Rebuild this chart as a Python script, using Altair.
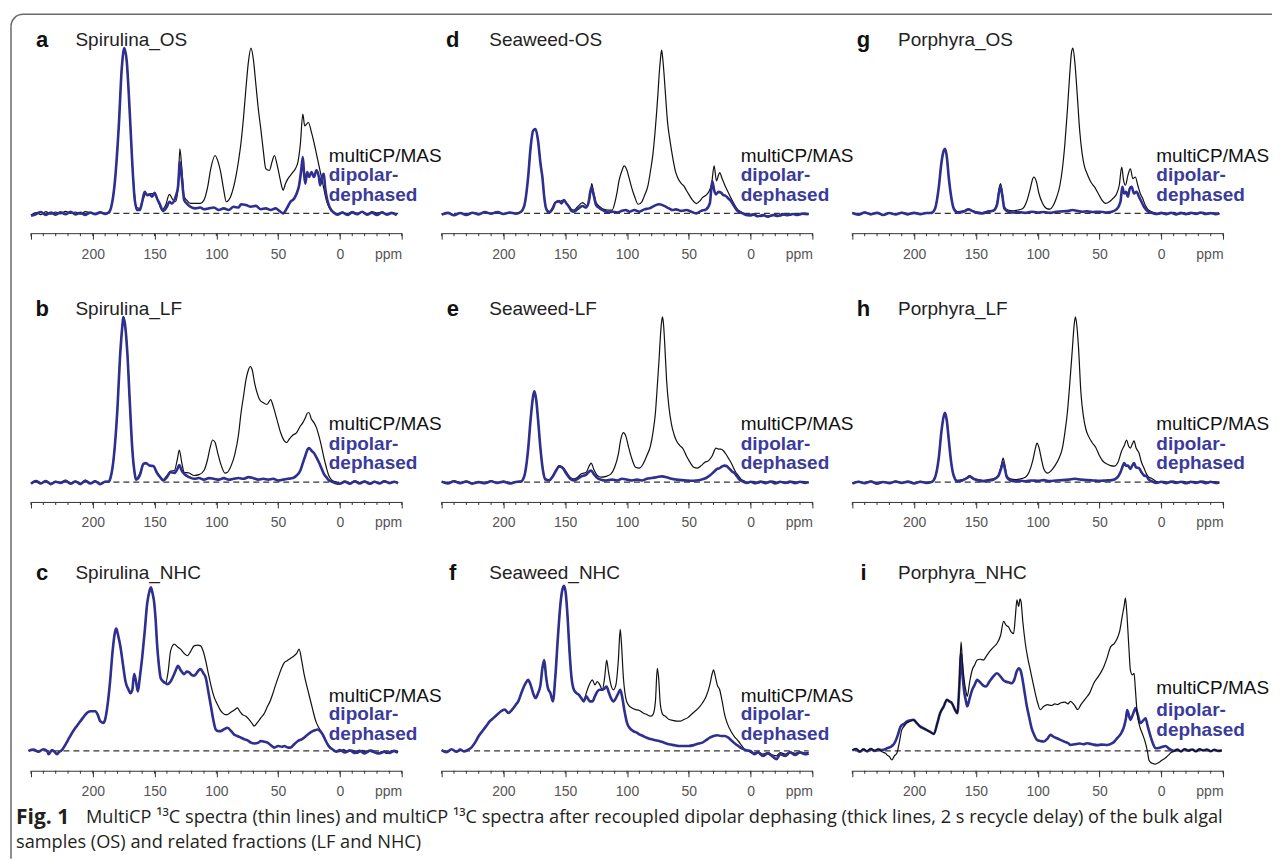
import altair as alt
import pandas as pd

# ---------------- data (ppm, relative intensity) ----------------
a_cp = [(250,-1),(246,0.5),(242,-0.8),(238,1),(234,-0.5),(230,0.8),(226,-0.3),(222,1.2),(218,0),(214,0.8),(210,-0.5),(206,1),(202,0.3),(198,-0.6),(194,0.8),(190,0),(187,1),(185,4),(182,20),(179,52),(176.5,88),(174.5,100),(172.5,92),(170,60),(168,30),(166,10),(165,4),(162,3),(159,9),(157,12),(155,11),(153,12),(150,12),(147,7),(144,2),(141,5),(138,11.5),(135,8),(133,7),(131,15),(129.5,39),(128,28),(126,10),(124,8),(121,6),(117,6),(113,6),(110,8),(107,16),(104.5,27),(101,35),(98.5,31),(96.5,25),(94,14),(92,7),(90,8),(88,11),(86,16),(84,23),(82,32),(80,43),(78,58),(76,76),(74,92),(72,100),(70,93),(68,78),(66,63),(64,51),(62,38),(60,27),(57,26),(55,31),(53,35),(51,30),(49,23),(47,16),(46,14),(44,18),(42,21),(40,23),(38,25),(36,27),(34,31),(32,42),(30,60),(28.5,53),(27,54),(25.5,55),(23,49),(21,43),(19,36),(17,29),(15,22),(13,15),(11,8),(9,4),(7,1.5),(5,0.6),(2,-0.5),(-2,0.8),(-6,-0.4),(-10,1),(-14,0),(-18,0.8),(-22,-0.6),(-26,1),(-30,0.2),(-34,0.8),(-38,-0.6),(-42,0.4),(-46,-0.8)]
a_dd = [(250,-1.5),(246,-0.5),(242,0.8),(238,-1),(234,0.5),(230,-0.8),(226,0.6),(222,-0.5),(218,1),(214,-0.6),(210,0.4),(206,-1),(202,0.5),(198,-0.5),(194,0.6),(190,-0.3),(187,0.5),(185,4),(182,20),(179,52),(176.5,88),(174.5,100),(172.5,92),(170,60),(168,30),(166,8),(164,2),(162,2),(160,7),(158,13),(156,11),(154,11.5),(152,10),(150,12.5),(148,9),(146,6),(143,1.5),(140,4),(138,7),(136,6),(133,10),(131,16),(129.5,31),(128,22),(126,8),(124,6),(121,4),(117,3),(113,3.5),(110,2.5),(106,3),(102,3.5),(98,2),(94,3),(90,2),(86,4),(82,3.5),(80,5.5),(76,5),(72,4),(68,4.5),(64,2.5),(60,3),(56,2),(52,3),(49,1.5),(46,0),(43,3),(40,7),(37,9),(35,12),(33,17),(31.5,25),(30,34),(29,24),(28,18),(26.5,25),(25,22),(23,25),(21,22),(19,26),(17,22),(16,17),(14.5,22),(13,24),(12,16),(11,11),(9,5),(7,2),(5,0.5),(2,-0.8),(-2,0.5),(-6,-1),(-10,0.6),(-14,-0.5),(-18,1),(-22,-0.8),(-26,0.4),(-30,-1),(-34,0.6),(-38,-0.8),(-42,0.3),(-46,-1.2)]

d_cp = [(250,-0.5),(245,0.5),(240,-1),(235,0.3),(230,-0.8),(225,0.5),(220,-0.3),(215,0.8),(210,0),(205,1),(200,-0.3),(195,0.6),(190,0),(186,1),(183,5),(180,22),(178,40),(176,50),(174,51),(172,44),(170,30),(168.5,22),(167,10),(165.5,3),(163,1),(160,4),(158,6.5),(155,7),(151,8),(149,6),(147,4.4),(145,2.5),(143,2),(140,4),(136,6.5),(132,4.4),(130,10),(128.6,18),(127,13),(125,6.5),(122,4),(118.6,2.4),(115,2),(112,2),(110,6),(108,13),(106.5,19.6),(104,26),(102.4,28.7),(100,26),(98.4,21.6),(96,15),(94,10.5),(91,5.5),(88,7),(86,10.5),(83,17),(81,25.7),(79,36),(77,52),(75,72),(74,84),(73,93),(72,98.8),(71,93),(70,84),(68.5,68),(67.3,56),(65,43),(63,33.7),(61,26),(59,21.6),(56,18),(54,16.6),(52,14),(50,11.5),(47,8),(44,5.9),(41,7.5),(39,9.5),(36,11),(33.5,13.5),(31.5,18),(29.5,28.7),(27.6,19.6),(26,23),(25,24.6),(23,21),(20,15.6),(17,11),(14.6,7.5),(12,4),(10.5,2.4),(8,1),(6.5,0.4),(3,-0.8),(0,-1.6),(-4,-1),(-8,-2),(-12,-1.2),(-16,-1.8),(-20,-0.8),(-24,-1.6),(-28,-0.6),(-32,-1.2),(-36,-0.3),(-40,-0.8),(-44,0),(-47,-0.5)]
d_dd = [(250,-0.8),(245,0.3),(240,-1.2),(235,0.2),(230,-1),(225,0.4),(220,-0.6),(215,0.8),(210,-0.2),(205,0.8),(200,-0.4),(195,0.5),(190,-0.2),(186,0.8),(183,5),(180,22),(178,40),(176,50),(174,51),(172,44),(170,30),(168.5,22),(167,10),(165.5,3),(163,0.5),(160,3),(158,6.5),(155,7.5),(153,6),(151,8),(149,6),(147,4),(145,1.5),(143,1),(140,2.5),(136,4.4),(133,3.5),(131,7),(129,15.5),(127,11),(125,5),(122,3),(118.6,1.5),(115,0.5),(112,1),(108,0.5),(104,1.5),(101,2),(98,1),(94,2),(90,1),(86,2.4),(82,3),(78,4.5),(74,5.5),(70,4.5),(66,3),(63,2),(60.5,2.4),(56,1.5),(52,2),(48,1),(44,0),(40,1.5),(36,2.4),(33,6),(31,19.6),(29.5,14),(28,11.5),(26,13),(24,12.5),(22,11),(20,10.5),(18,9),(16,7.5),(13,4),(10.5,1.4),(8,0.5),(5,-0.5),(2,-1.2),(-2,-0.6),(-6,-1.8),(-10,-1),(-14,-2),(-18,-1),(-22,-1.6),(-26,-0.5),(-30,-1.2),(-34,-0.4),(-38,-1),(-42,-0.2),(-47,-0.6)]

g_cp = [(250,0.5),(245,-0.5),(240,0.8),(235,-0.3),(230,0.5),(225,-0.8),(220,0.3),(215,-0.5),(210,0.6),(205,-0.4),(200,0.5),(195,-0.3),(190,0.4),(186,0.5),(183,3),(180,16),(178,30),(176,38),(175,39),(173.5,34),(172,22),(170,10),(168,3),(165,1),(160,1.5),(156,2.5),(153,1.5),(150,1),(145,0.5),(140,1.5),(136,2),(133,6),(131,16),(130,18),(128.5,12),(127,4),(124,2),(120,1.5),(116,2),(112,3),(109,7),(106,15),(104,21),(103,22),(101,19),(99,12),(96,6),(93,3),(90,2.5),(88,4),(85,9),(82,17),(80,27),(78,42),(76,62),(74,85),(72.5,98),(71.5,100),(70,92),(68,72),(66,50),(64,36),(62,28),(60,24),(57,19),(54,16),(51,12),(48,8),(45,6),(42,7),(39,9),(36,12),(34,17),(32,28),(30.5,20),(29,17),(27,23),(25,27),(23,21),(21,22),(19,17),(17,12),(15,9),(13,5),(11,2.5),(8,1),(5,0.3),(2,-0.5),(-2,0.5),(-6,-0.3),(-10,0.6),(-14,-0.5),(-18,0.4),(-22,-0.6),(-26,0.5),(-30,-0.2),(-34,0.6),(-38,-0.4),(-42,0.3),(-47,-0.3)]
g_dd = [(250,0.2),(245,-0.8),(240,0.5),(235,-0.6),(230,0.3),(225,-1),(220,0.2),(215,-0.7),(210,0.4),(205,-0.6),(200,0.3),(195,-0.5),(190,0.2),(186,0.3),(183,3),(180,16),(178,30),(176,38),(175,39),(173.5,34),(172,22),(170,10),(168,3),(165,0.5),(160,1),(156,2.4),(153,1.5),(150,0.5),(145,0),(140,1),(136,1.5),(133,5),(131,14),(130,16),(128.5,10),(127,3),(124,1),(120,0.5),(115,0.8),(110,0.3),(105,1),(100,0.5),(95,0.8),(90,0.3),(85,1),(80,1.2),(75,1.5),(72,2),(68,1.5),(64,1),(60,1.2),(55,0.8),(50,1),(45,0.5),(40,1),(36,2.5),(33,7),(31.5,16),(30,12),(28.5,13),(27,10),(25.5,15),(24,16),(22,12),(20,13),(18,10),(16,7),(14,4),(12,2),(10,0.8),(7,0.2),(4,-0.4),(0,0.3),(-4,-0.5),(-8,0.4),(-12,-0.6),(-16,0.3),(-20,-0.5),(-24,0.4),(-28,-0.3),(-32,0.5),(-36,-0.4),(-40,0.2),(-44,-0.5),(-47,0)]

b_cp = [(250,-0.5),(246,1),(242,-0.3),(238,0.8),(234,-0.8),(230,0.5),(226,0),(222,1),(218,-0.5),(214,0.6),(210,-0.8),(206,1.2),(202,-0.5),(198,0.8),(194,-1),(190,0.5),(187,0.5),(185.5,3),(183,15),(180,45),(178,75),(176,95),(175.3,100),(174,96),(172,78),(170,48),(168,20),(166,5),(165,2),(162,5),(159,11),(157,11.5),(154,10),(151,9.7),(148,6),(145,3),(143,1.5),(140,4),(137,6.7),(134,7),(131.5,14),(130,19.4),(128,12),(126,6),(122,5.5),(118,4),(114,4.5),(110,7),(107,14),(105,21),(103,25.5),(101,24),(99,18),(96,10),(93,5.5),(91,6),(88,10),(85,17),(82,29),(80,42),(78,52),(76,62),(74,68),(72.5,70),(71,68),(69,60),(67,54),(65,50),(62,48),(59,47),(56,50),(54,46),(51,38),(48,30),(45,25),(43,24),(41,26),(38,28.5),(35,30),(32,34),(30,36),(28,39),(26,42),(25,42),(23,38),(21,36),(19,33),(17,28),(15,22),(13,15),(11,9),(9,4),(7,1.5),(4,0.3),(0,-0.8),(-4,0.5),(-8,-0.6),(-12,0.8),(-16,-0.3),(-20,0.6),(-24,-0.8),(-28,0.4),(-32,-0.5),(-36,0.8),(-40,-0.3),(-44,0.5),(-47,-0.5)]
b_dd = [(250,-1),(246,0.5),(242,-0.8),(238,0.6),(234,-1.2),(230,0.2),(226,-0.5),(222,0.8),(218,-1),(214,0.4),(210,-1.2),(206,0.8),(202,-0.8),(198,0.5),(194,-1.2),(190,0.2),(187,0.3),(185.5,3),(183,15),(180,45),(178,75),(176,95),(175.3,100),(174,96),(172,78),(170,48),(168,20),(166,5),(165,1.5),(162,4),(159,11),(157,11.5),(154,10),(151,9.7),(148,5.5),(145,2.5),(143,1),(140,3),(137,6),(134,5.5),(131.5,8),(130,10.3),(128,7),(126,5),(122,3),(118,2),(114,2.5),(110,1.5),(106,2.4),(102,2),(98,1.5),(94,2.4),(90,1.5),(86,2),(82,2.5),(78,2),(74,3),(70,2.4),(66,1.5),(62,2),(58,1.5),(54,2),(50,1),(46,1.5),(42,2),(38,2.5),(35,4),(32,7),(30,11.5),(28,16),(26,20),(25,20.6),(23,19),(21,17.6),(19,15),(17,12),(15,8.5),(13,5),(11,3),(9,1.2),(7,0.5),(4,-0.5),(0,-1),(-4,0.3),(-8,-1),(-12,0.5),(-16,-0.8),(-20,0.4),(-24,-1),(-28,0.2),(-32,-0.8),(-36,0.5),(-40,-0.6),(-44,0.2),(-47,-0.8)]

e_cp = [(250,0.5),(245,-0.5),(240,0.8),(235,-0.3),(230,0.6),(225,-0.6),(220,0.2),(215,-0.4),(210,0.7),(205,-0.3),(200,0.5),(195,-0.5),(190,0.3),(186,0.5),(183,4),(180,20),(178,38),(176,52),(175,55),(173.5,50),(172,38),(170,20),(168,7),(166,2),(163,1.5),(160,4),(157,8),(155,10),(152,9),(149,6),(146,3),(143,2),(140,3),(137,5),(133,6),(130.5,10),(129,11.5),(127,8),(124,4),(121,3),(117,3.5),(113,5),(110,9),(107,17),(105,26),(103,30),(101,28),(99,22),(96,14),(93,9),(90,8.5),(87,11),(84,16),(81,22),(79,30),(77,42),(75.5,58),(74,75),(73,88),(72,97),(71.3,100),(70.5,96),(69.5,84),(68,62),(66,45),(64,35),(62,29),(60,25),(57,22),(55,20.6),(52,16),(49,12),(46,9),(43,8.5),(40,10),(37,12),(34,13),(31,16),(28,20.6),(26,20),(24,20),(22,19),(20,17),(18,14.5),(16,12),(14,9),(12,6),(10,4),(8,2),(5,0.6),(2,-0.5),(-2,0.4),(-6,-0.6),(-10,0.5),(-14,-0.4),(-18,0.6),(-22,-0.5),(-26,0.3),(-30,-0.6),(-34,0.4),(-38,-0.3),(-42,0.5),(-47,-0.4)]
e_dd = [(250,0.3),(245,-0.8),(240,0.5),(235,-0.6),(230,0.4),(225,-0.9),(220,0),(215,-0.6),(210,0.5),(205,-0.5),(200,0.3),(195,-0.8),(190,0.1),(186,0.3),(183,4),(180,20),(178,38),(176,52),(175,55),(173.5,50),(172,38),(170,20),(168,7),(166,1.5),(163,1),(160,3.5),(157,7.5),(155,9.5),(152,8.5),(149,5),(146,2),(143,1),(140,2),(137,3.5),(133,4.5),(130.5,6.5),(129,7),(127,5),(124,2.5),(121,1.5),(117,1),(112,1.5),(108,1),(104,2),(100,1.5),(96,1),(92,1.5),(88,1),(84,2),(80,2.5),(76,3),(72,3.5),(68,3),(64,2),(60,1.5),(56,1.2),(52,1),(48,0.8),(44,1),(40,1.5),(36,2.5),(33,4),(30,6),(27,8),(25,8.5),(23,9.5),(21,10),(19,9.5),(17,8),(15,6.5),(13,5.5),(11,3.5),(9,1.5),(6,0.3),(3,-0.5),(0,0.2),(-4,-0.7),(-8,0.3),(-12,-0.6),(-16,0.4),(-20,-0.8),(-24,0.2),(-28,-0.5),(-32,0.3),(-36,-0.6),(-40,0.2),(-44,-0.5),(-47,0)]

h_cp = [(250,-0.5),(245,0.5),(240,-0.3),(235,0.6),(230,-0.6),(225,0.3),(220,-0.4),(215,0.6),(210,-0.2),(205,0.5),(200,-0.5),(195,0.4),(190,-0.2),(186,0.3),(183,3),(180,15),(178,30),(176,40),(175,42),(173.5,37),(172,26),(170,12),(168,4),(165,1),(161,1.5),(157,3),(155,4),(152,2.5),(148,1.5),(144,1),(140,1.5),(136,2),(132,4),(129.5,10),(128,14.5),(126.5,10),(125,4),(122,2),(118,1.5),(114,2),(110,3),(107,6),(104,13),(102,20),(100.5,23.6),(99,21),(97,14),(95,8),(92,5.5),(89,7),(86,10),(83,14),(80,20.6),(78,30),(76,42),(74,60),(72,80),(70.5,95),(69.5,100),(68.5,96),(67,82),(65,54),(63,40),(61,32),(59,28),(56,24),(53,21),(50,16),(47,12.5),(44,11),(41,10),(38,9.7),(35,12),(32,19),(30,22),(28,25.5),(26.5,22),(25,20.6),(23.5,23),(22,25),(20.5,21),(18,17.6),(16,12),(14,8.5),(12,5),(10,3),(8,2.4),(5,0.8),(2,-0.3),(-2,0.5),(-6,-0.4),(-10,0.6),(-14,-0.3),(-18,0.5),(-22,-0.6),(-26,0.4),(-30,-0.3),(-34,0.6),(-38,-0.4),(-42,0.3),(-47,-0.4)]
h_dd = [(250,-0.8),(245,0.2),(240,-0.6),(235,0.4),(230,-0.9),(225,0.1),(220,-0.7),(215,0.4),(210,-0.5),(205,0.3),(200,-0.8),(195,0.2),(190,-0.5),(186,0),(183,3),(180,15),(178,30),(176,40),(175,42),(173.5,37),(172,26),(170,12),(168,4),(165,0.5),(161,1),(157,2.5),(155,3.5),(152,2),(148,1),(144,0.5),(140,1),(136,1.5),(132,3.5),(129.5,8.5),(128,12),(126.5,8),(125,3),(122,1),(118,0.5),(114,0.8),(110,0.5),(105,1),(100,0.8),(95,1.2),(90,0.6),(85,1),(80,1.2),(75,1.5),(70,2),(65,1.5),(60,1.2),(55,1),(50,0.8),(45,1),(40,1.2),(36,2.5),(33,6),(31,10),(30,11.5),(28.5,10),(27,10),(25,8),(23.5,10),(22,11.5),(20.5,9),(18,8.5),(16,6),(14,4),(12,3.6),(10,1.5),(7,0.3),(4,-0.5),(0,0.2),(-4,-0.6),(-8,0.3),(-12,-0.5),(-16,0.2),(-20,-0.7),(-24,0.2),(-28,-0.5),(-32,0.3),(-36,-0.6),(-40,0.2),(-44,-0.5),(-47,-0.2)]

c_shared = [(252,0),(248,0.8),(244,-0.5),(240,1),(237,0),(235.7,-2),(233,0.5),(231,-0.5),(229,-2),(227,-0.5),(225,0.5),(222,4),(219,8),(216.7,11),(214,14),(211,17),(208,20),(206,22),(202,24),(198,24),(196,22),(194,18),(191.5,17),(190,19),(188,28),(186,42),(184,60),(182,72),(181,74),(179.5,70),(177.6,63),(175.5,52),(173.5,42),(171,37),(169.5,35),(168,37),(166.5,46.5),(165,42),(163.5,36),(162,44),(160,56.6),(158,72),(156,89),(154,97),(153,99),(151.5,95),(150.5,91),(149,78),(148,65),(146.5,52),(145,44),(143,42),(141,41)]
c_cp_tail = [(139,48),(137,60.6),(134,64.6),(131.5,63),(129,61.6),(126,59),(123.5,57.6),(121,60),(118,63.6),(115,64),(112.7,63.6),(110.5,60),(108.6,54.5),(106.5,47),(104.6,40.4),(102,33),(99,28),(97,25),(95,23),(93,22),(91,22),(89,23),(87,24),(85,25),(83,26),(81,24),(79,22),(76,21),(73.5,19),(71,16.5),(69.5,15),(67,17),(64,20),(61,23),(58.6,27),(56.5,30),(54.6,34),(52,40),(49,46.5),(47,50.5),(45,53.5),(43,54.5),(41,55.5),(39,56.5),(37,57.6),(35,59),(33,61.6),(31,55),(29,46.5),(27,40),(25,34),(22,25),(19.5,18),(17,14),(15.4,12),(13,8.5),(11.4,6),(9,3.5),(7.3,2),(4.6,0),(1,-0.5),(-3,0.8),(-6,-0.6),(-10,0.5),(-14,-1.5),(-18,0.3),(-22,-1),(-26,0.5),(-30,-1.8),(-34,-0.4),(-38,-1.5),(-42,0.2),(-46,-1.2)]
c_dd_tail = [(139.7,40.4),(137,42),(135,45),(133,48.5),(131,51.5),(129,49),(126,46.5),(124,48),(122,47.5),(120,46),(118,45.5),(116,47),(114,49),(112.7,49.5),(110.5,47),(108.6,44.4),(106.5,36),(104.6,28),(102.5,19),(100.5,13),(98.5,12),(96.5,12),(94,13),(91,14),(88,12),(85.7,10),(83,9),(80,8),(77,7),(75,6.5),(72,5),(69,4.5),(66,5),(64,6),(61,5.5),(58.6,5),(56,3.5),(53,2),(50,3),(47,2.5),(45,3),(42,2),(40,2),(37,4),(34,6),(31,7),(29,8),(26,10),(22,12),(20,12.5),(18,13),(16,12),(14,10),(12,7),(10,4),(8,2),(6,1),(3,-0.5),(0,0.5),(-4,-1),(-8,0.3),(-12,-1.2),(-16,0),(-20,-1.5),(-24,0.2),(-28,-0.8),(-32,-1.5),(-36,-0.5),(-40,-1.2),(-44,0),(-47,-1)]
c_cp = c_shared + c_cp_tail
c_dd = c_shared + c_dd_tail

f_shared = [(250,0.5),(246,-0.8),(242,1),(238,-0.5),(235,0.8),(232,-0.3),(229,0.5),(226,2),(223,5),(220,9),(217,12),(214,15),(211,18),(208,20),(205,22),(202,24),(199,25),(196,23),(193,25),(190,28),(188,30),(186,34),(184,38),(182,41),(180,43),(178,40),(176,35),(174,32),(172,35),(170,40),(168.5,50),(167,55),(165.5,45),(164,38),(162,35),(160,30),(158,45),(156,68),(154,88),(152.5,97),(151,100),(149.5,95),(148,80),(146.5,60),(145,45),(143,37),(141,35),(139,34),(137,32),(135,30)]
f_cp_tail = [(133,35),(130,41),(128,43),(126,40),(124,42),(122,40),(120,37),(118,45),(116.5,55),(115,48),(113,40),(111,37),(109,40),(107,55),(105.5,73.6),(104.5,65),(103,45),(101,32),(99,28),(96,26),(93,25),(90,24.5),(87,23),(84,22),(81,21),(79,22),(77,30),(75.5,50),(74.5,45),(73,28),(71,22),(69,21),(66,19),(63,18.5),(60,18),(57,18),(54,19),(51,20),(48,22),(45,24),(42,26),(39,29),(36,33),(33,40),(31,47),(30,49),(28.5,45),(27,40),(25,37),(23,30),(21,22),(19,17),(16,12),(13,8.5),(10,6),(7,3),(5,1),(2,0),(-2,-1.5),(-6,-0.5),(-10,-2),(-14,-1),(-18,-2.5),(-21,-3),(-24,-1),(-28,-2),(-32,-0.5),(-36,-1.5),(-40,-0.5),(-44,-1.2),(-47,-0.8)]
f_dd_tail = [(133,33),(130,30),(128,30),(126,33),(124,36),(122,37),(120,37),(118,38),(116.5,39),(115,36),(113,32),(111,30),(109,32),(107,35),(105.5,37),(104,33),(102,24),(100,17),(98,14),(95,12),(92,11),(90,10),(87,9),(84,8),(80,7),(77,6.5),(74,6),(70,5),(66,4),(62,3.5),(58,3),(54,3),(50,3),(46,3.5),(42,4.5),(39,5),(36,6.5),(33,8),(30,9),(27,9.5),(24,9),(21,9),(18,8),(15,6),(12,4),(10,3),(7,1.5),(4,0.5),(0,0),(-3,-2),(-6,-1),(-10,-3),(-14,-1.5),(-18,-3.5),(-21,-5),(-24,-2),(-28,-3),(-32,-1),(-36,-2.5),(-40,-1),(-44,-2),(-47,-1.5)]
f_cp = f_shared + f_cp_tail
f_dd = f_shared + f_dd_tail

i_cp = [(250,0.5),(247,1.5),(244,-0.3),(241,1.2),(238,0),(235,1.5),(232,0.3),(229,1.2),(226,-0.5),(223,-1.5),(222,-2.4),(220,-3.5),(218,-5.5),(216,-3),(214,-1.4),(212,5),(210,12.7),(208,15),(206,16.8),(203,18),(200.5,18.8),(198,17),(195,14.7),(192,13.5),(190,12.7),(187,11.5),(184,10.3),(181.5,16),(179,22.8),(176,27),(173.5,31),(171.5,30),(169.5,29),(167,25),(165,22.8),(163.5,40),(162,66),(161,55),(159.5,43),(158,36),(157,33),(155,42),(153,49),(151,52),(149,55),(146.5,55.5),(144,55),(141,58),(138,61),(135.5,63),(133,65),(130,70),(127.6,78.4),(125.5,76),(123.5,75),(121.5,72),(119.5,71),(118,82),(116.8,91.5),(115.4,87.5),(114.3,92),(113.5,90.5),(112,78),(110,65),(108,56),(106,49),(104,42),(102,35),(100,29),(98,25),(95,27),(92,28),(89,27.5),(86,28.5),(84,28),(81.6,29),(78,29.5),(75.5,28.5),(73.5,30),(70.5,28),(67.6,25),(65,28),(63,30),(61,32),(58,35),(54.6,41),(51,45),(48.5,48),(46.5,51),(44,56),(41,63),(38,65),(35.7,68),(33.5,73),(31.6,81.4),(30,88),(29,92.5),(28,85),(27,73),(26,60),(25,49),(23.5,46),(22,47),(21,38),(19.5,22.8),(17.5,15),(15.4,10.7),(12.7,4.6),(11,-1),(10,-5.5),(8.5,-7),(7.3,-7.5),(5,-8),(3.2,-7.5),(1,-6.5),(-0.8,-5.5),(-3,-4.5),(-6,-2.4),(-8,-1),(-10,-0.4),(-13,0.8),(-16,-0.5),(-19,1.2),(-22,0),(-25,1),(-28,-0.5),(-31,1.3),(-34,0.2),(-37,1),(-40,-0.3),(-43,0.8),(-46,0),(-49,0.5)]
i_dd = [(250,0.3),(247,1),(244,-0.5),(241,0.8),(238,-0.3),(235,1),(232,0),(229,0.8),(226,0.5),(223,1.2),(222,1.6),(219,2.5),(217,3.6),(215,6),(213,10),(211,14.7),(208,16.5),(206,17.8),(203,18.5),(200.5,18.8),(198,17),(195,14.7),(192,13.5),(190,12.7),(187,11.5),(184,10.3),(181.5,16),(179,22.8),(176,27),(173.5,31),(171.5,30),(169.5,29),(167,25),(165,22.8),(163.5,38),(162,59),(161,48),(159.5,36),(158,30),(157,27),(155,32),(153,37),(151,40),(149,43),(146,41),(144,39.5),(142,39),(139,42),(136,45),(133,47),(130,45),(128,43),(126,42),(123.5,41.5),(121,41),(119,43),(117,48),(115.4,50),(114,49),(112.7,45),(110.5,35),(109,28),(107,20.8),(105,14),(103,10),(100.5,6.7),(98,6),(95,5.7),(92,7.5),(89.7,9.7),(87,8.5),(84,7.5),(81.6,6.7),(78,5.5),(75,4.5),(73.5,3.6),(70,4),(66,4.5),(63,4),(60,4.6),(56,4),(52,3.5),(48,3.8),(43.8,3.6),(40,4.5),(37.5,6),(35.7,7.7),(33,10),(30,15),(28.5,20),(27.6,24.8),(26,21),(25,18.8),(23,22),(21.5,25),(20.8,25.9),(19,22),(16.8,16.8),(14.5,18.5),(12.7,19.8),(11,15),(8.6,8.7),(6.5,4),(4.6,1.6),(2,1.8),(-1,2.5),(-3.5,3),(-6,1.5),(-10,0),(-13,0.8),(-16,-0.3),(-19,1),(-22,0.2),(-25,0.9),(-28,-0.2),(-31,1),(-34,0.3),(-37,0.8),(-40,-0.2),(-43,0.7),(-46,0),(-49,0.3)]

letters = ["a", "d", "g", "b", "e", "h", "c", "f", "i"]
names = ["Spirulina_OS", "Seaweed-OS", "Porphyra_OS",
         "Spirulina_LF", "Seaweed-LF", "Porphyra_LF",
         "Spirulina_NHC", "Seaweed_NHC", "Porphyra_NHC"]
cp_curves = [a_cp, d_cp, g_cp, b_cp, e_cp, h_cp, c_cp, f_cp, i_cp]
dd_curves = [a_dd, d_dd, g_dd, b_dd, e_dd, h_dd, c_dd, f_dd, i_dd]
legend_texts = ["multiCP/MAS", "dipolar-", "dephased"]
major_ticks = [250, 200, 150, 100, 50, 0, -50]
minor_ticks = [250, 240, 230, 220, 210, 200, 190, 180, 170, 160, 150, 140, 130, 120, 110,
               100, 90, 80, 70, 60, 50, 40, 30, 20, 10, 0, -10, -20, -30, -40, -50]
caption_bold = "Fig. 1"
caption_line1 = ("MultiCP \u00b9\u00b3C spectra (thin lines) and multiCP \u00b9\u00b3C spectra after "
                 "recoupled dipolar dephasing (thick lines, 2 s recycle delay) of the bulk algal")
caption_line2 = "samples (OS) and related fractions (LF and NHC)"

# ---------------- styling ----------------
W, H = 371, 205
BLUE = "#2e2f8e"
BLUE_TXT = "#3a3b9c"
FONT = "Liberation Sans"
CAP_FONT = "Open Sans"
CAP_SIZE = 18.2
xscale = alt.Scale(domain=[-50, 250], reverse=True, nice=False, zero=False)
yscale = alt.Scale(domain=[-12, 112], nice=False, zero=False)
xaxis = alt.Axis(values=major_ticks, title=None, grid=False, tickSize=6, tickColor="#333",
                 domainColor="#333", labelColor="#555", labelFontSize=14, labelFont=FONT,
                 labelPadding=8, labelFlush=True, labelOverlap=False,
                 labelExpr="datum.value == 250 ? '' : (datum.value == -50 ? 'ppm' : datum.label)")


def to_df(curve):
    return pd.DataFrame({"ppm": [p for p, _ in curve], "v": [v for _, v in curve],
                         "i": list(range(len(curve)))})


def X(field):
    return alt.X(field, type="quantitative", scale=xscale, axis=xaxis)


def Y(field):
    return alt.Y(field, type="quantitative", scale=yscale, axis=None)


def panel(k):
    col = k % 3
    row = k // 3
    cp = alt.Chart(to_df(cp_curves[k])).mark_line(color="#111", strokeWidth=1.2, interpolate="monotone").encode(
        x=X("ppm"), y=Y("v"), order="i:Q")
    dd = alt.Chart(to_df(dd_curves[k])).mark_line(color=BLUE, strokeWidth=2.6, interpolate="monotone").encode(
        x=X("ppm"), y=Y("v"), order="i:Q")
    base = alt.Chart(pd.DataFrame({"x0": [248], "x1": [-47], "v": [0]})).mark_rule(
        color="#333", strokeWidth=1.1, strokeDash=[6, 4]).encode(x=X("x0"), x2="x1", y=Y("v"))
    minor = alt.Chart(pd.DataFrame({"t": minor_ticks})).mark_rule(color="#333", strokeWidth=1).encode(
        x=X("t"), y=alt.value(H), y2=alt.value(H + 3))
    name_x = [214, 211.5, 213][col]
    title_y = 105 if row < 2 else 107.5
    title_df = pd.DataFrame({"ppm": [241], "v": [title_y], "t": [letters[k]]})
    letter = alt.Chart(title_df).mark_text(font=FONT, fontSize=22, fontWeight="bold", color="#111",
                                           align="center", baseline="middle").encode(
        x=X("ppm"), y=Y("v"), text="t:N")
    name = alt.Chart(pd.DataFrame({"ppm": [name_x], "v": [title_y], "t": [names[k]]})).mark_text(
        font=FONT, fontSize=19, color="#222", align="left", baseline="middle").encode(
        x=X("ppm"), y=Y("v"), text="t:N")
    lx = [9, 8, 4][col]
    ly = [35, 23.2, 11.3] if row < 2 else ([33.5, 22.3, 10.5] if col < 2 else [38, 25, 12.7])
    lab1 = alt.Chart(pd.DataFrame({"ppm": [lx], "v": [ly[0]], "t": [legend_texts[0]]})).mark_text(
        font=FONT, fontSize=19, color="#111", align="left", baseline="middle").encode(
        x=X("ppm"), y=Y("v"), text="t:N")
    lab2 = alt.Chart(pd.DataFrame({"ppm": [lx, lx], "v": ly[1:], "t": legend_texts[1:]})).mark_text(
        font=FONT, fontSize=19, fontWeight="bold", color=BLUE_TXT, align="left", baseline="middle").encode(
        x=X("ppm"), y=Y("v"), text="t:N")
    lines = [cp, dd] if k != 8 else [dd, cp]
    layers = [base] + lines + [minor, letter, name, lab1, lab2]
    if k == 0:
        frame_top = alt.Chart(pd.DataFrame({"z": [0]})).mark_rule(color="#6a6a6a", strokeWidth=1.5).encode(
            x=alt.value(-8), x2=alt.value(1242), y=alt.value(-14))
        corner = alt.Chart(pd.DataFrame({"z": [0]})).mark_arc(
            radius=12.75, radius2=11.25, theta=4.7124, theta2=6.2832, color="#6a6a6a").encode(
            x=alt.value(-8), y=alt.value(-2))
        layers += [frame_top, corner]
    return alt.layer(*layers).properties(width=W, height=H)


panels = [panel(k) for k in range(9)]

cap_df = pd.DataFrame({"z": [0]})
cap_bold = alt.Chart(cap_df).mark_text(font=CAP_FONT, fontSize=21, fontWeight="bold", color="#231f20",
                                       align="left", baseline="middle", text=caption_bold).encode(
    x=alt.value(-15), y=alt.value(-17))
cap_l1 = alt.Chart(cap_df).mark_text(font=CAP_FONT, fontSize=CAP_SIZE, color="#231f20",
                                     align="left", baseline="middle", text=caption_line1).encode(
    x=alt.value(55), y=alt.value(-17))
cap_l2 = alt.Chart(cap_df).mark_text(font=CAP_FONT, fontSize=CAP_SIZE, color="#231f20",
                                     align="left", baseline="middle", text=caption_line2).encode(
    x=alt.value(-15), y=alt.value(8))
frame_left = alt.Chart(cap_df).mark_rule(color="#6a6a6a", strokeWidth=1.5).encode(
    x=alt.value(-20), y=alt.value(-809), y2=alt.value(24))
caption = alt.layer(frame_left, cap_bold, cap_l1, cap_l2).properties(width=W, height=20)

chart = alt.concat(*panels, caption, columns=3, spacing={"row": 64, "column": 40}, bounds="flush").properties(
    padding={"left": 1, "top": 4, "right": 0, "bottom": 4}
).configure_view(stroke="transparent")

chart.save("out.html", embed_options={"renderer": "svg", "actions": False})
